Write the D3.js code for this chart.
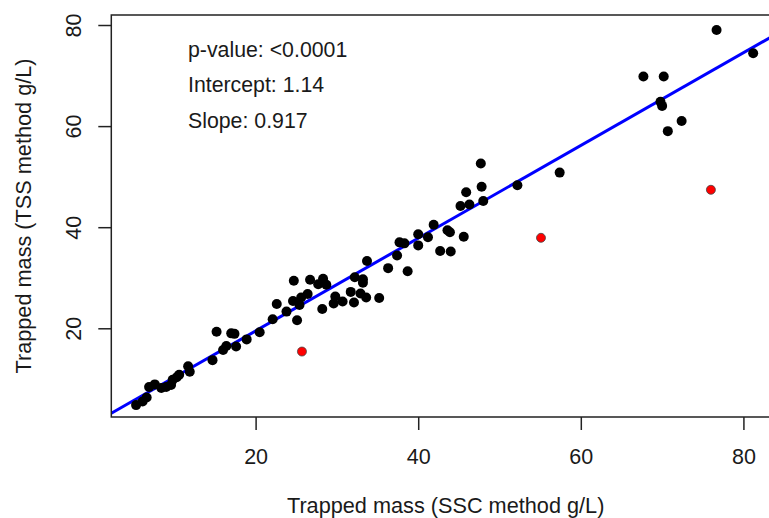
<!DOCTYPE html>
<html>
<head>
<meta charset="utf-8">
<script src="https://cdn.jsdelivr.net/npm/d3@7"></script>
<style>
  body { margin: 0; background: #fff; }
  text { font-family: "Liberation Sans", Arial, sans-serif; fill: #1a1a1a; }
</style>
</head>
<body>
<svg id="scatter" width="769" height="518"></svg>
<script>
// trapped mass, SSC method (x) vs TSS method (y), g/L
const sscValues = [5.3, 6.1, 6.6, 6.9, 7.6, 8.4, 9.0, 9.6, 9.8, 10.3, 10.6, 11.7, 11.9, 14.7, 15.2,
  16.0, 16.4, 17.0, 17.4, 17.6, 18.9, 20.5, 22.1, 22.6, 23.8, 24.6, 24.7, 25.1, 25.4, 25.6,
  26.4, 26.7, 27.7, 28.2, 28.3, 28.7, 29.6, 29.8, 30.7, 31.7, 32.1, 32.2, 32.9, 33.2, 33.2,
  33.6, 33.7, 35.2, 36.3, 37.4, 37.7, 38.3, 38.7, 40.0, 40.0, 41.2, 41.9, 42.7, 43.6, 43.9,
  44.0, 45.2, 45.6, 45.9, 46.3, 47.7, 47.8, 48.0, 52.2, 57.4, 67.7, 69.8, 70.0, 70.2, 70.7,
  72.4, 76.7, 81.2];
const tssValues = [4.8, 5.5, 6.3, 8.4, 8.9, 8.2, 8.4, 8.8, 9.8, 10.3, 10.8, 12.5, 11.4, 13.7, 19.3,
  15.7, 16.5, 19.0, 18.9, 16.4, 17.8, 19.2, 21.8, 24.8, 23.3, 25.4, 29.4, 21.6, 24.6, 26.1,
  26.8, 29.6, 28.7, 23.8, 29.8, 28.6, 24.9, 26.3, 25.3, 27.2, 25.1, 30.1, 26.9, 29.7, 29.0,
  26.1, 33.3, 26.0, 31.9, 34.4, 37.0, 36.8, 31.3, 38.6, 36.4, 38.0, 40.5, 35.3, 39.4, 39.0,
  35.2, 44.2, 38.1, 46.9, 44.5, 52.6, 48.0, 45.2, 48.3, 50.8, 69.8, 64.8, 64.0, 69.8, 59.0,
  61.0, 79.0, 74.4];

// points highlighted in red
const outlierSsc = [25.7, 55.1, 76.0];
const outlierTss = [15.4, 37.9, 47.4];

const fitIntercept = 1.14;
const fitSlope = 0.917;
const statLines = ["p-value: <0.0001", "Intercept: 1.14", "Slope: 0.917"];

const xTicks = [20, 40, 60, 80];
const yTicks = [20, 40, 60, 80];

const svg = d3.select("#scatter");

// plot region (right edge runs past the window, as in the source figure)
const box = { left: 111.3, right: 780, top: 15, bottom: 417 };

const x = d3.scaleLinear().domain([2.25, 84.5]).range([box.left, box.right]);
const y = d3.scaleLinear().domain([2.45, 81.98]).range([box.bottom, box.top]);

svg.append("clipPath")
  .attr("id", "plot-clip")
  .append("rect")
  .attr("x", box.left)
  .attr("y", box.top)
  .attr("width", box.right - box.left)
  .attr("height", box.bottom - box.top);

const plot = svg.append("g").attr("clip-path", "url(#plot-clip)");

// regression line
const [x0, x1] = x.domain();
plot.append("line")
  .attr("x1", x(x0))
  .attr("y1", y(fitIntercept + fitSlope * x0))
  .attr("x2", x(x1))
  .attr("y2", y(fitIntercept + fitSlope * x1))
  .attr("stroke", "#0000ff")
  .attr("stroke-width", 3);

const points = sscValues.map((v, i) => ({ ssc: v, tss: tssValues[i] }));
plot.selectAll(".pt")
  .data(points)
  .enter()
  .append("circle")
  .attr("class", "pt")
  .attr("cx", (d) => x(d.ssc))
  .attr("cy", (d) => y(d.tss))
  .attr("r", 5)
  .attr("fill", "#000");

const outliers = outlierSsc.map((v, i) => ({ ssc: v, tss: outlierTss[i] }));
plot.selectAll(".out")
  .data(outliers)
  .enter()
  .append("circle")
  .attr("class", "out")
  .attr("cx", (d) => x(d.ssc))
  .attr("cy", (d) => y(d.tss))
  .attr("r", 4.5)
  .attr("fill", "#ff0000")
  .attr("stroke", "#444")
  .attr("stroke-width", 0.8);

// axes
const xAxis = svg.append("g")
  .attr("transform", `translate(0,${box.bottom})`)
  .call(d3.axisBottom(x).tickValues(xTicks).tickSize(13).tickPadding(19));

const yAxis = svg.append("g")
  .attr("transform", `translate(${box.left},0)`)
  .call(d3.axisLeft(y).tickValues(yTicks).tickSize(13));

[xAxis, yAxis].forEach((ax) => {
  ax.select(".domain").remove();
  ax.selectAll("line").attr("stroke", "#222").attr("stroke-width", 1.5);
  ax.selectAll("text")
    .attr("fill", "#1a1a1a")
    .style("font-size", "21.5px")
    .style("font-family", '"Liberation Sans", Arial, sans-serif');
});

yAxis.selectAll("text")
  .attr("transform", "rotate(-90)")
  .attr("x", 0)
  .attr("y", -30.5)
  .attr("dy", 0)
  .attr("text-anchor", "middle");

// plot box (open on the right where the figure is cut)
svg.append("path")
  .attr("d", `M${box.right},${box.top}H${box.left}V${box.bottom}H${box.right}`)
  .attr("fill", "none")
  .attr("stroke", "#222")
  .attr("stroke-width", 1.5);

// axis titles
svg.append("text")
  .attr("x", (box.left + box.right) / 2)
  .attr("y", 512.5)
  .attr("text-anchor", "middle")
  .style("font-size", "21.7px")
  .text("Trapped mass (SSC method g/L)");

svg.append("text")
  .attr("transform", `translate(31,${(box.top + box.bottom) / 2}) rotate(-90)`)
  .attr("text-anchor", "middle")
  .style("font-size", "21.7px")
  .text("Trapped mass (TSS method g/L)");

// fit statistics
svg.selectAll(".stat")
  .data(statLines)
  .enter()
  .append("text")
  .attr("class", "stat")
  .attr("x", 188)
  .attr("y", (d, i) => 56.5 + i * 35.6)
  .style("font-size", "21.3px")
  .text((d) => d);
</script>
</body>
</html>
